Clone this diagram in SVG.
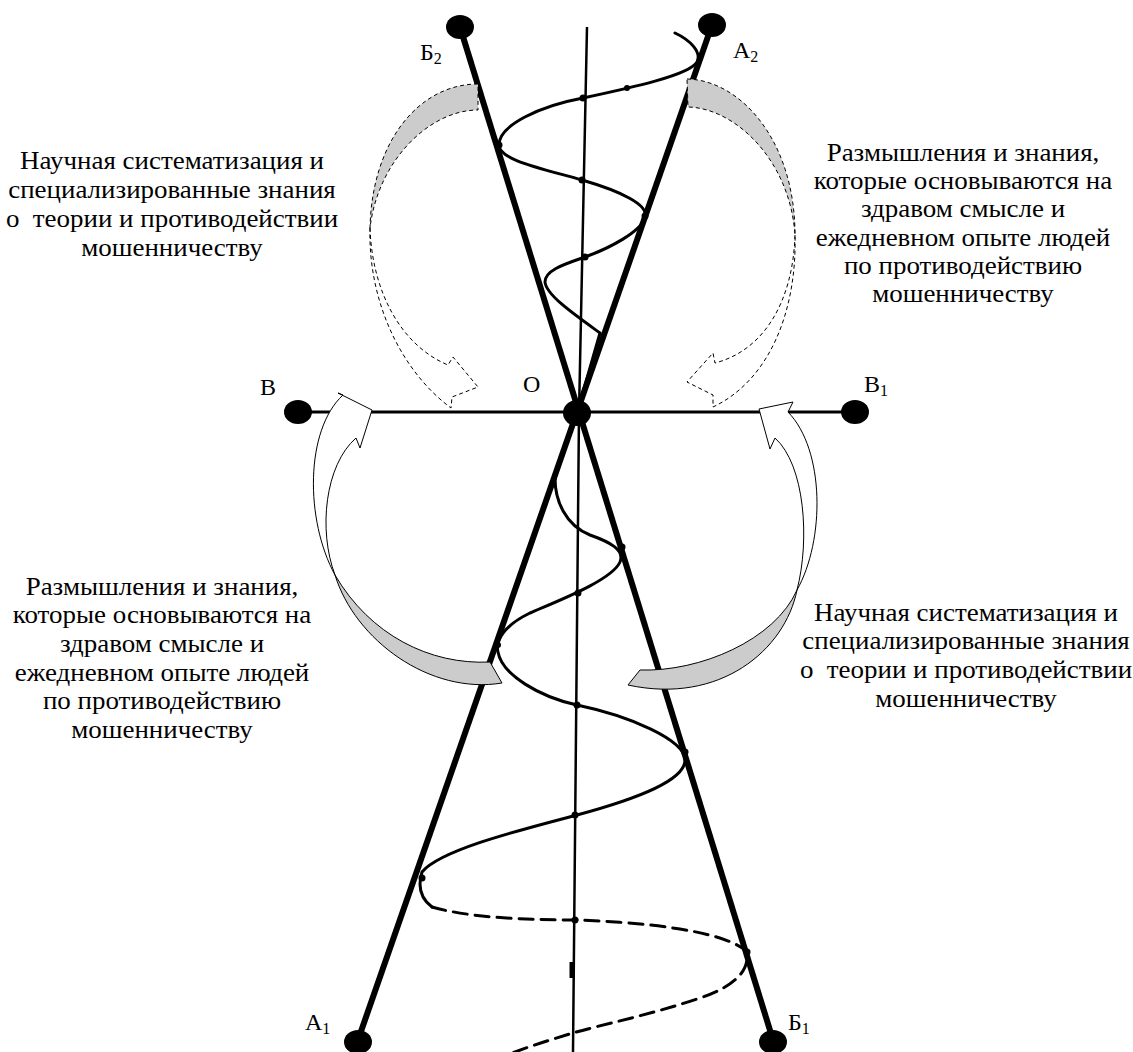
<svg xmlns="http://www.w3.org/2000/svg" width="1133" height="1052" viewBox="0 0 1133 1052">
<style>
.t{font-family:"Liberation Serif","Times New Roman",serif;font-size:24.5px;fill:#000;text-anchor:middle;white-space:pre}
.lb{font-family:"Liberation Serif","Times New Roman",serif;font-size:24px;fill:#000}
.sub{font-size:16px}
.main{stroke:#000;stroke-width:6;fill:none}
.helix{stroke:#000;stroke-width:3;fill:none;stroke-linecap:round}
.dash{stroke-dasharray:14 8}
.gray{fill:#cccccc;stroke:#000;stroke-width:1}
.white{fill:#fff;stroke:#000;stroke-width:1}
.dsh{stroke-dasharray:4 3}
.dot{fill:#000}
</style>
<rect width="1133" height="1052" fill="#fff"/>
<g id="connectors">
  <polyline points="587,27 579,413 573,1052" fill="none" stroke="#000" stroke-width="2.5"/>
  <line x1="572" y1="962" x2="572" y2="978" stroke="#000" stroke-width="5"/>
  <path class="helix" d="M675,33 C690,40 702,52 697,62 C690,75 630,88 583,98 C540,106 499,125 499,145 C499,160 540,168 582,180 C620,191 650,205 645,218 C640,232 610,248 585,257 C565,264 545,270 545,282 C546,295 575,315 600,333 L577,413"/>
  <path class="helix" d="M577,413 L555,478 C555,500 565,525 590,535 C610,542 625,550 620,562 C612,580 560,600 530,613 C505,625 495,640 498,652 C502,675 540,697 577,705 C630,716 685,740 685,760 C685,780 640,798 577,815 C520,830 440,850 422,872 C418,885 420,898 432,907"/>
  <path class="helix dash" d="M432,907 C470,918 530,920 575,920 C640,922 720,930 745,950 C752,965 740,985 700,998 C650,1015 600,1025 573,1033 C550,1040 530,1046 510,1054"/>
  <g class="dot">
    <circle cx="583" cy="98" r="3.5"/><circle cx="582" cy="180" r="3.5"/><circle cx="585" cy="257" r="3.5"/>
    <circle cx="627" cy="88" r="3"/><circle cx="499" cy="145" r="3.5"/><circle cx="645" cy="216" r="3.5"/>
    <circle cx="578" cy="593" r="3.5"/><circle cx="577" cy="705" r="3.5"/><circle cx="575" cy="815" r="3.5"/>
    <circle cx="575" cy="920" r="3.5"/><circle cx="622" cy="547" r="3.5"/><circle cx="685" cy="752" r="3.5"/>
    <circle cx="422" cy="878" r="3.5"/><circle cx="747" cy="952" r="3.5"/><circle cx="498" cy="645" r="3"/>
  </g>
  <line class="main" x1="460" y1="27" x2="773" y2="1040"/>
  <line class="main" x1="712" y1="25" x2="358" y2="1040"/>
  <line x1="298" y1="412" x2="855" y2="412" stroke="#000" stroke-width="3"/>
</g>
<g id="node-B2"><ellipse class="dot" cx="460" cy="27" rx="14" ry="12"/><text class="lb" x="420" y="60">Б<tspan class="sub" dy="4">2</tspan></text></g>
<g id="node-A2"><ellipse class="dot" cx="712" cy="25" rx="14" ry="12"/><text class="lb" x="733" y="58">A<tspan class="sub" dy="4">2</tspan></text></g>
<g id="node-V"><ellipse class="dot" cx="298" cy="412" rx="14" ry="12"/><text class="lb" x="260" y="395">B</text></g>
<g id="node-O"><ellipse class="dot" cx="577" cy="413" rx="14" ry="13"/><text class="lb" x="523" y="392">O</text></g>
<g id="node-V1"><ellipse class="dot" cx="855" cy="412" rx="14" ry="12"/><text class="lb" x="864" y="392">B<tspan class="sub" dy="4">1</tspan></text></g>
<g id="node-A1"><ellipse class="dot" cx="358" cy="1042" rx="14" ry="12"/><text class="lb" x="305" y="1030">A<tspan class="sub" dy="4">1</tspan></text></g>
<g id="node-B1"><ellipse class="dot" cx="773" cy="1042" rx="14" ry="12"/><text class="lb" x="788" y="1030">Б<tspan class="sub" dy="4">1</tspan></text></g>
<g id="arrow-tl">
  <path class="gray dsh" d="M478,84 C420,84 372,140 370,228 C378,160 430,110 478,110 Z"/>
  <path class="white dsh" d="M370,228 C372,290 400,345 448,365 L453,357 L478,387 L452,397 L451,408 C400,370 368,300 370,228 Z"/>
</g>
<g id="arrow-tr">
  <path class="gray dsh" d="M687,79 C740,80 795,140 795,235 C790,160 735,108 688,107 Z"/>
  <path class="white dsh" d="M795,235 C793,300 765,350 715,363 L713,353 L687,382 L713,395 L713,407 C770,380 797,310 795,235 Z"/>
</g>
<g id="arrow-bl">
  <path class="white" d="M335,575 C318,530 325,465 356,438 L360,448 L372,410 L338,393 L343,395 C305,430 305,520 335,575 Z"/>
  <path class="gray" d="M335,575 C355,640 430,695 502,683 L490,662 C430,665 370,635 335,575 Z"/>
</g>
<g id="arrow-br">
  <path class="white" d="M797,590 C810,540 805,465 775,438 L770,449 L759,409 L793,402 L788,412 C825,450 825,540 797,590 Z"/>
  <path class="gray" d="M797,590 C785,650 720,705 628,685 L640,670 C700,672 775,640 797,590 Z"/>
</g>
<g id="text-tl" transform="matrix(1.1,0,0,1,-17.2,0)">
  <text class="t" x="172" y="169">Научная систематизация и</text>
  <text class="t" x="172" y="198">специализированные знания</text>
  <text class="t" x="172" y="227">о  теории и противодействии</text>
  <text class="t" x="172" y="256">мошенничеству</text>
</g>
<g id="text-tr" transform="matrix(1.1,0,0,1,-96.3,0)">
  <text class="t" x="963" y="161">Размышления и знания,</text>
  <text class="t" x="963" y="189">которые основываются на</text>
  <text class="t" x="963" y="217">здравом смысле и</text>
  <text class="t" x="963" y="246">ежедневном опыте людей</text>
  <text class="t" x="963" y="274">по противодействию</text>
  <text class="t" x="963" y="302">мошенничеству</text>
</g>
<g id="text-bl" transform="matrix(1.1,0,0,1,-16.2,0)">
  <text class="t" x="162" y="595">Размышления и знания,</text>
  <text class="t" x="162" y="623">которые основываются на</text>
  <text class="t" x="162" y="652">здравом смысле и</text>
  <text class="t" x="162" y="681">ежедневном опыте людей</text>
  <text class="t" x="162" y="709">по противодействию</text>
  <text class="t" x="162" y="738">мошенничеству</text>
</g>
<g id="text-br" transform="matrix(1.1,0,0,1,-96.6,0)">
  <text class="t" x="966" y="621">Научная систематизация и</text>
  <text class="t" x="966" y="649">специализированные знания</text>
  <text class="t" x="966" y="678">о  теории и противодействии</text>
  <text class="t" x="966" y="707">мошенничеству</text>
</g>
</svg>
